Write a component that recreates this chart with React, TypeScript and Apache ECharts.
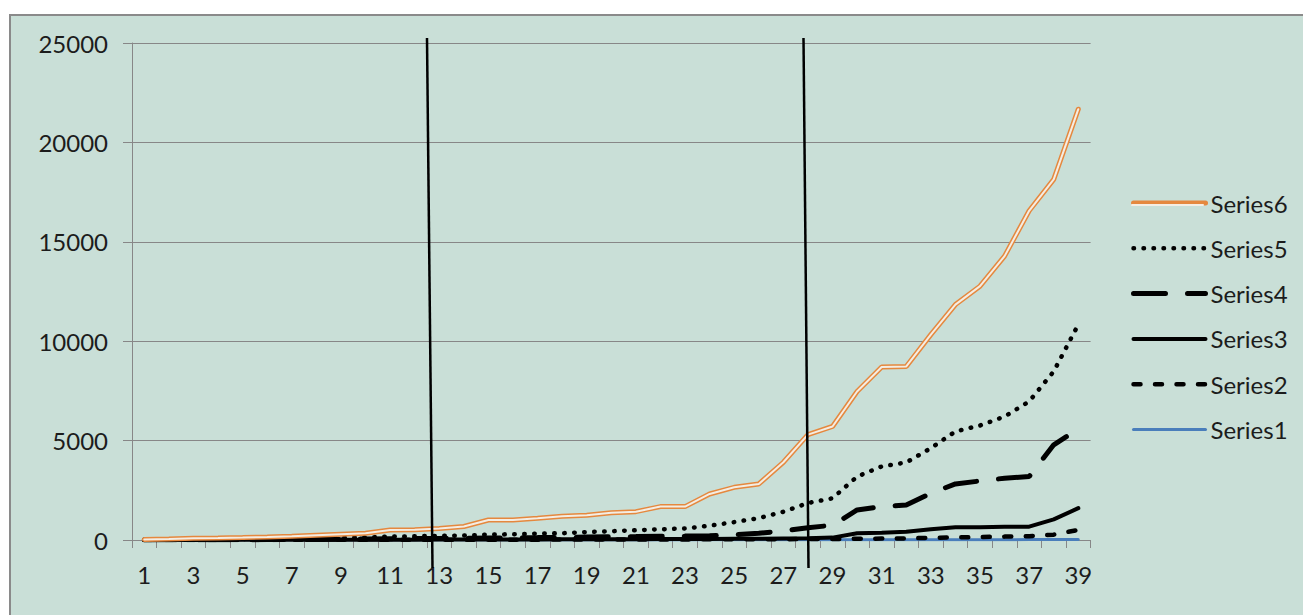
import React, { useEffect, useRef } from "react";
import * as echarts from "echarts";

const categories = Array.from({ length: 39 }, (_, i) => String(i + 1));

const series1 = [0, 0, 0, 0, 1, 1, 1, 1, 1, 2, 2, 2, 2, 3, 3, 3, 4, 4, 4, 5, 5, 6, 6, 7, 7, 8, 9, 10, 11, 12, 13, 14, 15, 16, 17, 18, 19, 21, 23];
const series2 = [1, 2, 3, 4, 5, 6, 7, 8, 9, 10, 11, 12, 13, 14, 15, 16, 18, 20, 22, 24, 26, 28, 30, 32, 35, 38, 42, 46, 50, 60, 70, 80, 110, 130, 150, 170, 190, 270, 510];
const series3 = [3, 4, 5, 6, 7, 8, 9, 10, 12, 14, 16, 18, 20, 22, 25, 28, 30, 33, 36, 40, 43, 46, 50, 55, 60, 65, 75, 85, 120, 340, 370, 420, 540, 640, 640, 670, 670, 1040, 1600];
const series4 = [5, 8, 10, 12, 15, 20, 25, 30, 40, 50, 60, 70, 80, 90, 100, 110, 120, 135, 150, 160, 170, 185, 195, 210, 260, 340, 460, 620, 740, 1510, 1680, 1760, 2350, 2820, 2970, 3110, 3190, 4790, 5580];
const series5 = [15, 20, 30, 40, 50, 60, 75, 90, 110, 130, 170, 190, 210, 220, 270, 290, 320, 340, 400, 440, 490, 540, 580, 720, 900, 1100, 1420, 1860, 2100, 3190, 3700, 3900, 4620, 5460, 5760, 6210, 6970, 8480, 10840];
const series6 = [30, 50, 85, 100, 120, 150, 185, 235, 285, 335, 505, 520, 580, 680, 1005, 1005, 1090, 1190, 1240, 1375, 1425, 1680, 1680, 2315, 2650, 2820, 3910, 5300, 5710, 7470, 8700, 8730, 10330, 11840, 12770, 14280, 16560, 18140, 21670];

const BG = "#C9DFD7";
const FONT = "Lato, 'Open Sans', sans-serif";
const TEXT = "#1c1c1c";
const GRID = "#878787";
const ORANGE = "#E5883E";
const INNER = "#F4EDE3";

const dot = { width: 4.5, type: [0.5, 9.5], cap: "round", color: "#000" };
const longDash = { width: 5, type: [32, 22], cap: "round", color: "#000" };
const solid = { width: 4, type: "solid", cap: "round", color: "#000" };
const shortDash = { width: 4.5, type: [7, 14.5], cap: "round", color: "#000" };
const blue = { width: 3, type: "solid", cap: "round", color: "#4A7EBB" };
const orange = { width: 5, type: "solid", cap: "round", color: ORANGE };

function lineSeries(name: string, data: number[], ls: any) {
  return {
    name,
    type: "line",
    data,
    symbol: "none",
    showSymbol: false,
    lineStyle: ls,
    itemStyle: { color: ls.color },
    emphasis: { disabled: true },
  };
}

export default function App() {
  const ref = useRef<HTMLDivElement>(null);
  useEffect(() => {
    document.body.style.margin = "0";
    const chart = echarts.init(ref.current!, null, { renderer: "svg" });
    const option: any = {
      animation: false,
      backgroundColor: "transparent",
      textStyle: { fontFamily: FONT },
      grid: { left: 132, top: 43, right: 212.4, bottom: 75, containLabel: false },
      xAxis: {
        type: "category",
        data: categories,
        boundaryGap: true,
        axisLine: { show: true, lineStyle: { color: GRID, width: 1 } },
        axisTick: { show: true, interval: 0, length: 8, lineStyle: { color: GRID } },
        axisLabel: { interval: 1, margin: 22, color: TEXT, fontSize: 24, fontFamily: FONT },
        splitLine: { show: false },
      },
      yAxis: {
        type: "value",
        min: 0,
        max: 25000,
        interval: 5000,
        axisLine: { show: true, lineStyle: { color: GRID, width: 1 } },
        axisTick: { show: true, length: 9, lineStyle: { color: GRID } },
        axisLabel: {
          margin: 24,
          color: TEXT,
          fontSize: 24,
          fontFamily: FONT,
          formatter: (v: number) => String(v),
        },
        splitLine: { show: true, lineStyle: { color: GRID, width: 1 } },
      },
      legend: {
        orient: "vertical",
        left: 1131,
        top: 191,
        padding: 0,
        itemWidth: 72,
        itemHeight: 14,
        itemGap: 21.3,
        selectedMode: false,
        itemStyle: { opacity: 0, color: "transparent", borderWidth: 0 },
        textStyle: { color: TEXT, fontSize: 24, fontFamily: FONT },
        data: [
          { name: "Series6", lineStyle: orange },
          { name: "Series5", lineStyle: dot },
          { name: "Series4", lineStyle: longDash },
          { name: "Series3", lineStyle: solid },
          { name: "Series2", lineStyle: shortDash },
          { name: "Series1", lineStyle: blue },
        ],
      },
      series: [
        lineSeries("Series1", series1, blue),
        lineSeries("Series2", series2, shortDash),
        lineSeries("Series3", series3, solid),
        lineSeries("Series4", series4, longDash),
        lineSeries("Series5", series5, dot),
        lineSeries("Series6", series6, orange),
        lineSeries("Series6 ", series6, { width: 2, type: "solid", cap: "round", color: INNER }),
      ],
      graphic: [
        { type: "line", z: 100, shape: { x1: 427, y1: 38, x2: 432.5, y2: 568 }, style: { stroke: "#000", lineWidth: 2.5 } },
        { type: "line", z: 100, shape: { x1: 803.5, y1: 38, x2: 808.5, y2: 568 }, style: { stroke: "#000", lineWidth: 2.5 } },
        { type: "line", z: 100, shape: { x1: 1132, y1: 205, x2: 1203, y2: 205 }, style: { stroke: INNER, lineWidth: 2, lineCap: "round" } },
      ],
    };
    chart.setOption(option);
    return () => chart.dispose();
  }, []);
  return (
    <div style={{ position: "relative", width: 1303, height: 615, overflow: "hidden", background: "#fff" }}>
      <div
        style={{
          position: "absolute",
          left: 9,
          top: 14,
          width: 1400,
          height: 700,
          background: BG,
          borderTop: "2px solid #8a8a8a",
          borderLeft: "2px solid #8a8a8a",
        }}
      />
      <div ref={ref} style={{ position: "absolute", left: 0, top: 0, width: 1303, height: 615 }} />
    </div>
  );
}
